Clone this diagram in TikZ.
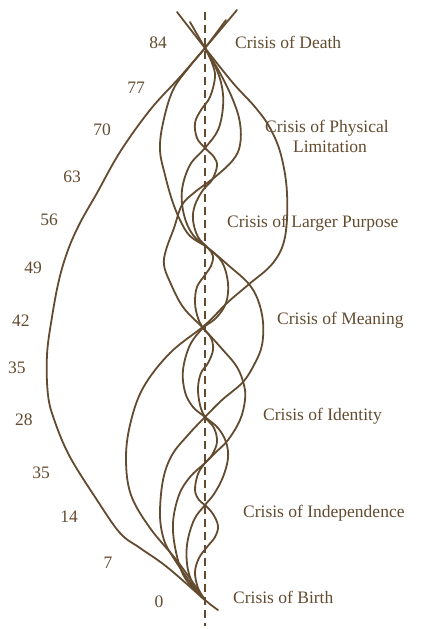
\documentclass[tikz,border=0pt]{standalone}
\usepackage{fontspec}
\setmainfont{Liberation Serif}
\definecolor{ink}{RGB}{99,75,47}
\begin{document}
\begin{tikzpicture}[x=1pt,y=-1pt,
  curve/.style={draw=ink,line width=1.8pt,line join=round,line cap=round},
  axisline/.style={draw=ink,line width=1.6pt,dash pattern=on 8pt off 5pt},
  lbl/.style={text=ink,inner sep=0pt,font=\fontsize{17.5}{20}\selectfont},
  age/.style={lbl,anchor=base},
  crisis/.style={lbl,anchor=base west}]
\useasboundingbox (0,0) rectangle (424,629);
% axis
\coordinate (top) at (205,12);
\coordinate (bot) at (205,626);
\draw[axisline] (top) -- (bot);
% A : 84-year curve
\draw[curve] plot[smooth,tension=0.6] coordinates {(237,10) (205,48) (180,77) (150,110) (120,152) (97,193) (80,223) (68,250) (59,280) (52,317) (47,355) (48,395) (55,422) (70,457) (97,500) (120,533) (140,548) (167,567) (205,600) (218,610)};
% B : 42-year curve
\draw[curve] plot[smooth,tension=0.6] coordinates {(177,12) (205,48) (233,83) (255,107) (270,128) (281,155) (287,193) (285,237) (273,263) (248,285) (227,303) (205,325) (170,353) (143,388) (130,425) (126,460) (131,495) (150,528) (178,562) (205,600)};
% C : 28-year curve
\draw[curve] plot[smooth,tension=0.6] coordinates {(226,20) (205,48) (190,66) (173,90) (163,123) (160,150) (165,175) (172,200) (180,220) (190,236) (208,248) (228,265) (248,283) (258,300) (263,322) (262,345) (255,363) (243,382) (222,400) (205,417) (188,435) (172,455) (163,480) (160,515) (164,540) (173,557) (190,582) (205,600)};
% D : 21-year curve
\draw[curve] plot[smooth,tension=0.6] coordinates {(190,22) (205,48) (220,73) (233,100) (240,123) (240,145) (233,160) (215,177) (195,192) (182,205) (174,228) (166,250) (164,265) (170,282) (183,307) (203,328) (223,350) (237,367) (244,385) (245,400) (240,420) (228,440) (215,453) (205,463) (190,477) (179,495) (173,523) (176,552) (185,578) (205,600)};
% E : 14-year curve
\draw[curve] plot[smooth,tension=0.6] coordinates {(205,48) (216,68) (222,87) (223,107) (218,130) (205,148) (190,165) (182,190) (184,215) (193,235) (208,248) (222,262) (228,283) (226,303) (216,318) (203,328) (190,345) (183,370) (185,392) (193,407) (205,417) (218,428) (226,442) (228,458) (223,477) (214,494) (205,505) (194,520) (187,545) (188,570) (196,590) (205,600)};
% F : 7-year curve
\draw[curve] plot[smooth,tension=0.6] coordinates {(205,48) (212,63) (215,77) (210,97) (201,110) (195,123) (197,138) (205,148) (214,157) (217,166) (212,180) (203,190) (195,205) (193,220) (198,237) (208,248) (213,256) (211,266) (205,275) (197,287) (195,303) (198,318) (203,328) (211,338) (213,350) (208,363) (201,373) (198,388) (200,405) (205,417) (214,428) (217,442) (212,455) (205,463) (198,474) (195,490) (199,500) (205,505) (213,514) (218,526) (215,537) (207,547) (199,558) (195,572) (198,588) (205,600)};
% ages
\node[age] (a84) at (158,48) {84};
\node[age] (a77) at (136,93) {77};
\node[age] (a70) at (102,135) {70};
\node[age] (a63) at (72,182) {63};
\node[age] (a56) at (49,225) {56};
\node[age] (a49) at (33,273) {49};
\node[age] (a42) at (21,326) {42};
\node[age] (a35a) at (17,373) {35};
\node[age] (a28) at (24,425) {28};
\node[age] (a35b) at (41,478) {35};
\node[age] (a14) at (69,522) {14};
\node[age] (a7) at (108,568) {7};
\node[age] (a0) at (159,607) {0};
% crises
\node[crisis] (death) at (235,48) {Crisis of Death};
\node[crisis] (phys) at (265,132) {Crisis of Physical};
\node[lbl,anchor=base] (limit) at (330,152) {Limitation};
\node[crisis] (purpose) at (227,227) {Crisis of Larger Purpose};
\node[crisis] (meaning) at (277,324) {Crisis of Meaning};
\node[crisis] (identity) at (263,420) {Crisis of Identity};
\node[crisis] (indep) at (243,517) {Crisis of Independence};
\node[crisis] (birth) at (233,603) {Crisis of Birth};
\end{tikzpicture}
\end{document}
